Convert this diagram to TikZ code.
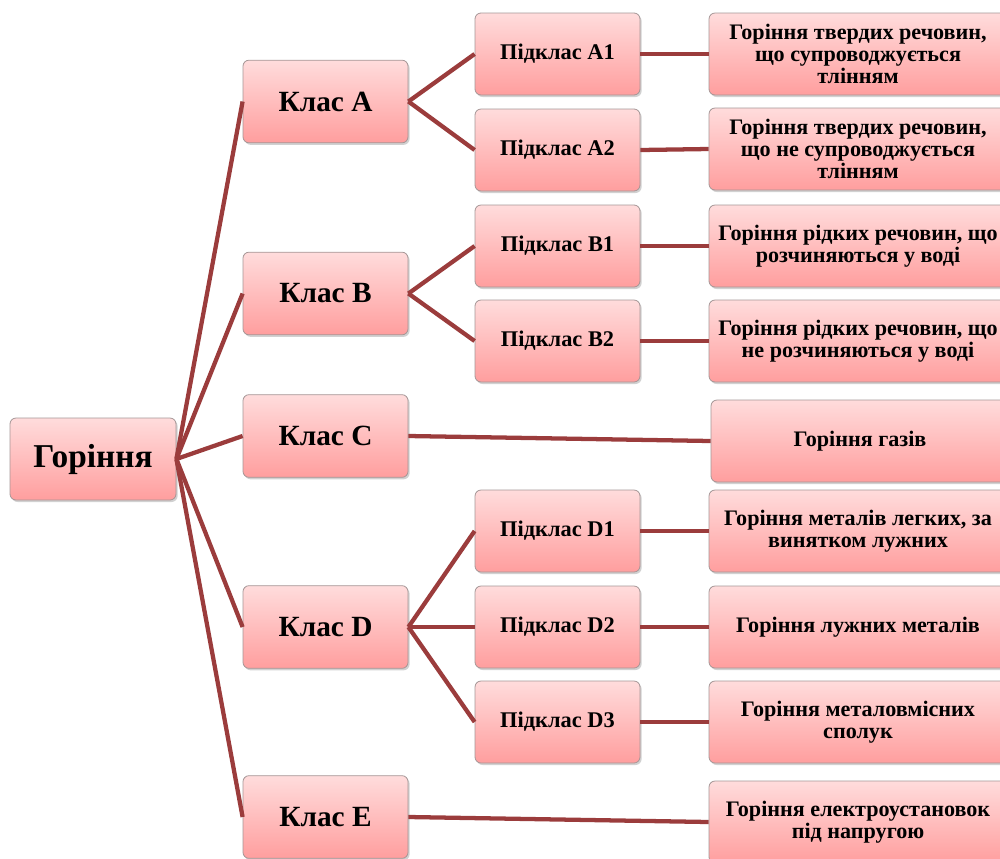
\documentclass[tikz,border=0pt]{standalone}
\usepackage{fontspec}
\setmainfont{Liberation Serif}
\usetikzlibrary{shadows}
\definecolor{linec}{RGB}{155,60,60}
\definecolor{topc}{RGB}{255,220,220}
\definecolor{botc}{RGB}{255,158,158}
\definecolor{borderc}{RGB}{165,150,150}
\begin{document}
\begin{tikzpicture}[x=0.75pt,y=-0.75pt,
  box/.style={draw=borderc, line width=0.6pt, rounded corners=4.5pt,
    top color=topc, bottom color=botc, align=center, inner sep=0pt,
    drop shadow={opacity=0.3, shadow xshift=1.2pt, shadow yshift=-1.5pt, fill=black!60}},
  root/.style={box, minimum width=124.5pt, minimum height=61.5pt,
    font=\bfseries\fontsize{25}{29}\selectfont},
  cls/.style={box, minimum width=123.75pt, minimum height=62pt,
    font=\bfseries\fontsize{22}{26}\selectfont},
  sub/.style={box, minimum width=123.75pt, minimum height=61.5pt,
    font=\bfseries\fontsize{16.8}{19}\selectfont},
  desc/.style={box, minimum width=223.5pt, minimum height=61.5pt,
    font=\bfseries\fontsize{16.6}{16.6}\selectfont},
  conn/.style={draw=linec, line width=3.2pt}]
\useasboundingbox (0,0) rectangle (1000,858);
\clip (0,0) rectangle (1000,858);
% root
\node[root] (g) at (93,459) {Горіння};
% classes
\node[cls] (a) at (325.5,101.5) {Клас A};
\node[cls] (b) at (325.5,293.5) {Клас B};
\node[cls] (c) at (325.5,436) {Клас C};
\node[cls] (d) at (325.5,627) {Клас D};
\node[cls] (e) at (325.5,817) {Клас E};
% subclasses
\node[sub] (a1) at (557.5,54) {Підклас A1};
\node[sub] (a2) at (557.5,150) {Підклас A2};
\node[sub] (b1) at (557.5,246) {Підклас B1};
\node[sub] (b2) at (557.5,341) {Підклас B2};
\node[sub] (d1) at (557.5,531) {Підклас D1};
\node[sub] (d2) at (557.5,627) {Підклас D2};
\node[sub] (d3) at (557.5,722) {Підклас D3};
% descriptions
\node[desc] (ra1) at (858,54) {Горіння твердих речовин,\\ що супроводжується\\ тлінням};
\node[desc] (ra2) at (858,149) {Горіння твердих речовин,\\ що не супроводжується\\ тлінням};
\node[desc] (rb1) at (858,246) {Горіння рідких речовин, що\\ розчиняються у воді};
\node[desc] (rb2) at (858,341) {Горіння рідких речовин, що\\ не розчиняються у воді};
\node[desc] (rc) at (860,441) {Горіння газів};
\node[desc] (rd1) at (858,531) {Горіння металів легких, за\\ винятком лужних};
\node[desc] (rd2) at (858,627) {Горіння лужних металів};
\node[desc] (rd3) at (858,722) {Горіння металовмісних\\ сполук};
\node[desc] (re) at (858,822) {Горіння електроустановок\\ під напругою};
% connectors
\foreach \t in {a,b,c,d,e} \draw[conn] (g.east) -- (\t.west);
\draw[conn] (a.east) -- (a1.west);
\draw[conn] (a.east) -- (a2.west);
\draw[conn] (b.east) -- (b1.west);
\draw[conn] (b.east) -- (b2.west);
\draw[conn] (d.east) -- (d1.west);
\draw[conn] (d.east) -- (d2.west);
\draw[conn] (d.east) -- (d3.west);
\draw[conn] (a1.east) -- (ra1.west);
\draw[conn] (a2.east) -- (ra2.west);
\draw[conn] (b1.east) -- (rb1.west);
\draw[conn] (b2.east) -- (rb2.west);
\draw[conn] (d1.east) -- (rd1.west);
\draw[conn] (d2.east) -- (rd2.west);
\draw[conn] (d3.east) -- (rd3.west);
\draw[conn] (c.east) -- (rc.west);
\draw[conn] (e.east) -- (re.west);
\end{tikzpicture}
\end{document}
